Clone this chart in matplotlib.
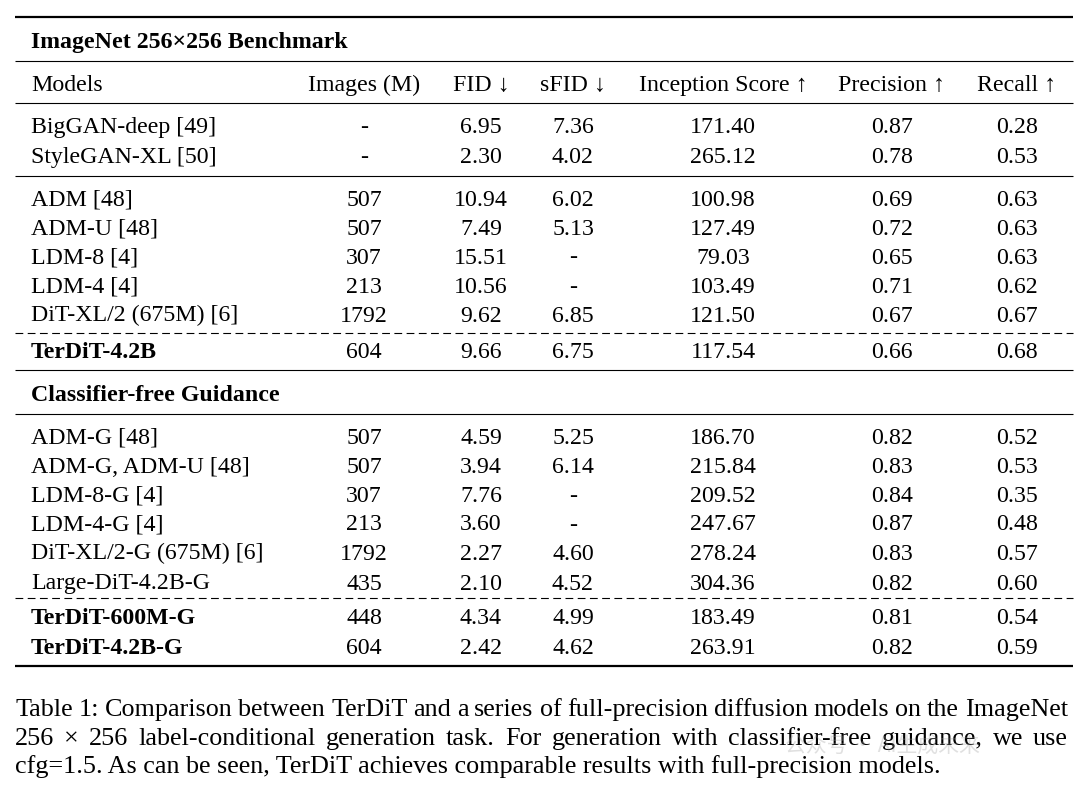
import matplotlib.pyplot as plt

# --- TABLE DATA ---
TITLE = "ImageNet 256×256 Benchmark"
HEADERS = ["Models", "Images (M)", "FID ↓", "sFID ↓", "Inception Score ↑", "Precision ↑", "Recall ↑"]

gan_models = ["BigGAN-deep [49]", "StyleGAN-XL [50]"]
gan_images = ["-", "-"]
gan_fid = ["6.95", "2.30"]
gan_sfid = ["7.36", "4.02"]
gan_is = ["171.40", "265.12"]
gan_prec = ["0.87", "0.78"]
gan_rec = ["0.28", "0.53"]

diff_models = ["ADM [48]", "ADM-U [48]", "LDM-8 [4]", "LDM-4 [4]", "DiT-XL/2 (675M) [6]"]
diff_images = ["507", "507", "307", "213", "1792"]
diff_fid = ["10.94", "7.49", "15.51", "10.56", "9.62"]
diff_sfid = ["6.02", "5.13", "-", "-", "6.85"]
diff_is = ["100.98", "127.49", "79.03", "103.49", "121.50"]
diff_prec = ["0.69", "0.72", "0.65", "0.71", "0.67"]
diff_rec = ["0.63", "0.63", "0.63", "0.62", "0.67"]

ter_models = ["TerDiT-4.2B"]
ter_images = ["604"]
ter_fid = ["9.66"]
ter_sfid = ["6.75"]
ter_is = ["117.54"]
ter_prec = ["0.66"]
ter_rec = ["0.68"]

CFG_TITLE = "Classifier-free Guidance"

cfg_models = ["ADM-G [48]", "ADM-G, ADM-U [48]", "LDM-8-G [4]", "LDM-4-G [4]",
              "DiT-XL/2-G (675M) [6]", "Large-DiT-4.2B-G"]
cfg_images = ["507", "507", "307", "213", "1792", "435"]
cfg_fid = ["4.59", "3.94", "7.76", "3.60", "2.27", "2.10"]
cfg_sfid = ["5.25", "6.14", "-", "-", "4.60", "4.52"]
cfg_is = ["186.70", "215.84", "209.52", "247.67", "278.24", "304.36"]
cfg_prec = ["0.82", "0.83", "0.84", "0.87", "0.83", "0.82"]
cfg_rec = ["0.52", "0.53", "0.35", "0.48", "0.57", "0.60"]

tercfg_models = ["TerDiT-600M-G", "TerDiT-4.2B-G"]
tercfg_images = ["448", "604"]
tercfg_fid = ["4.34", "2.42"]
tercfg_sfid = ["4.99", "4.62"]
tercfg_is = ["183.49", "263.91"]
tercfg_prec = ["0.81", "0.82"]
tercfg_rec = ["0.54", "0.59"]

CAPTION = [
    "Table 1: Comparison between TerDiT and a series of full-precision diffusion models on the ImageNet",
    "256 × 256 label-conditional generation task. For generation with classifier-free guidance, we use",
    "cfg=1.5. As can be seen, TerDiT achieves comparable results with full-precision models.",
]

# --- LAYOUT (pixel coords) ---
W, H = 1080, 789
FONT = ["Liberation Serif", "DejaVu Serif"]
FS = 17.2
CAP_FS = 18.8
X_LEFT, X_RIGHT = 15, 1073
CAP_RIGHT = 1068
COL_X = [31, 364, 481, 573, 723, 892, 1017]
BASE = 7.5  # row centre -> text baseline

fig = plt.figure(figsize=(W / 100, H / 100), dpi=100)
ax = fig.add_axes([0, 0, 1, 1])
ax.set_xlim(0, W)
ax.set_ylim(H, 0)
ax.axis("off")


def rule(y, lw=0.8, dashed=False):
    ls = (0, (7, 4)) if dashed else "-"
    ax.plot([X_LEFT, X_RIGHT], [y, y], color="black", lw=lw, linestyle=ls,
            solid_capstyle="butt", dash_capstyle="butt")


def row(y, cells, bold_name=False):
    for i, (x, txt) in enumerate(zip(COL_X, cells)):
        ha = "left" if i == 0 else "center"
        weight = "bold" if (bold_name and i == 0) else "normal"
        ax.text(x, y + BASE, txt, ha=ha, va="baseline", fontsize=FS, family=FONT, weight=weight)


def block(ys, cols, bold_name=False):
    for j, y in enumerate(ys):
        row(y, [c[j] for c in cols], bold_name)


# rules
rule(17, lw=1.6)
rule(61)
rule(103)
rule(176)
rule(333, dashed=True)
rule(370)
rule(414)
rule(598, dashed=True)
rule(666, lw=1.6)

ax.text(COL_X[0], 40 + BASE, TITLE, ha="left", va="baseline", fontsize=FS, family=FONT, weight="bold")
row(83, HEADERS)

block([125, 155], [gan_models, gan_images, gan_fid, gan_sfid, gan_is, gan_prec, gan_rec])
block([198, 227, 256, 285, 314],
      [diff_models, diff_images, diff_fid, diff_sfid, diff_is, diff_prec, diff_rec])
block([350], [ter_models, ter_images, ter_fid, ter_sfid, ter_is, ter_prec, ter_rec], bold_name=True)

ax.text(COL_X[0], 393 + BASE, CFG_TITLE, ha="left", va="baseline", fontsize=FS, family=FONT, weight="bold")

block([436, 465, 494, 523, 552, 582],
      [cfg_models, cfg_images, cfg_fid, cfg_sfid, cfg_is, cfg_prec, cfg_rec])
block([617, 646],
      [tercfg_models, tercfg_images, tercfg_fid, tercfg_sfid, tercfg_is, tercfg_prec, tercfg_rec],
      bold_name=True)

# caption, first two lines justified like the LaTeX original
renderer = fig.canvas.get_renderer()
cap_base = [716, 745, 773]
for k, (y, line) in enumerate(zip(cap_base, CAPTION)):
    if k == len(CAPTION) - 1:
        ax.text(X_LEFT, y, line, ha="left", va="baseline", fontsize=CAP_FS, family=FONT)
        continue
    words = line.split(" ")
    arts = [ax.text(0, y, w, ha="left", va="baseline", fontsize=CAP_FS, family=FONT) for w in words]
    widths = [a.get_window_extent(renderer).width for a in arts]
    gap = (CAP_RIGHT - X_LEFT - sum(widths)) / (len(words) - 1)
    x = X_LEFT
    for a, w in zip(arts, widths):
        a.set_x(x)
        x += w + gap

# faint watermark
ax.text(785, 752, "公众号 · AI生成未来", ha="left", va="baseline", fontsize=15,
        family=["Noto Sans CJK SC", "DejaVu Sans"], color="#999999", alpha=0.3)

fig.savefig("out.png", dpi=100)
